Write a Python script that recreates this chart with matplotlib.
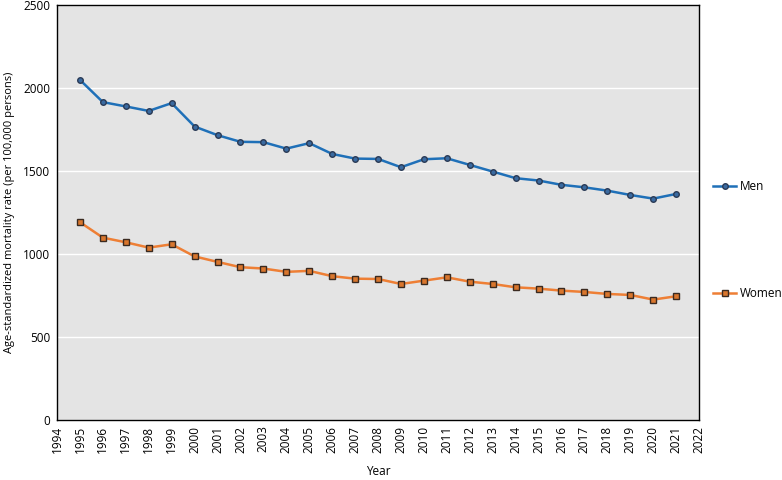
import matplotlib
matplotlib.use('Agg')
import matplotlib.pyplot as plt
import numpy as np

years = list(range(1995, 2022))
men = [2048, 1914, 1888, 1861, 1908, 1767, 1715, 1675, 1673, 1634, 1667, 1602, 1574,
       1572, 1522, 1570, 1576, 1536, 1496, 1456, 1442, 1416, 1401, 1381, 1355, 1333, 1361]
women = [1191, 1098, 1070, 1038, 1058, 985, 952, 920, 912, 892, 898, 866, 851,
         849, 819, 839, 859, 833, 819, 799, 791, 779, 771, 759, 753, 725, 745]

plt.rcParams['font.family'] = ['Open Sans', 'DejaVu Sans']

fig = plt.figure(figsize=(7.82, 4.8), dpi=100)
ax = fig.add_axes([0.0729, 0.125, 0.821, 0.865])
ax.set_facecolor('#e4e4e4')

ax.plot(years, men, color='#1f70b8', lw=1.8, marker='o', ms=4,
        mfc='#3a6aa0', mec='#2a3a55', mew=1, label='Men', zorder=3)
ax.plot(years, women, color='#ee7f35', lw=1.8, marker='s', ms=4,
        mfc='#d9762d', mec='#3a2a20', mew=1, label='Women', zorder=3)

ax.set_xlim(1994, 2022)
ax.set_ylim(0, 2500)
ax.set_xticks(range(1994, 2023))
ax.set_xticklabels([str(y) for y in range(1994, 2023)], rotation=90, fontsize=8.5)
ax.set_yticks(range(0, 2501, 500))
ax.tick_params(axis='y', labelsize=8.5, length=0, pad=5)
ax.tick_params(axis='x', length=0, pad=4)
ax.grid(axis='y', color='white', lw=1)
ax.set_axisbelow(True)
for s in ax.spines.values():
    s.set_color('black')
    s.set_linewidth(1)

ax.set_xlabel('Year', fontsize=8.5, labelpad=9)
ax.set_ylabel('Age-standardized mortality rate (per 100,000 persons)', fontsize=8, labelpad=6)

ax.legend(loc='center left', bbox_to_anchor=(1.005, 0.433), frameon=False,
          fontsize=8.5, labelspacing=8.0, handlelength=2.0, handletextpad=0.3)

fig.savefig('out.png', dpi=100)
